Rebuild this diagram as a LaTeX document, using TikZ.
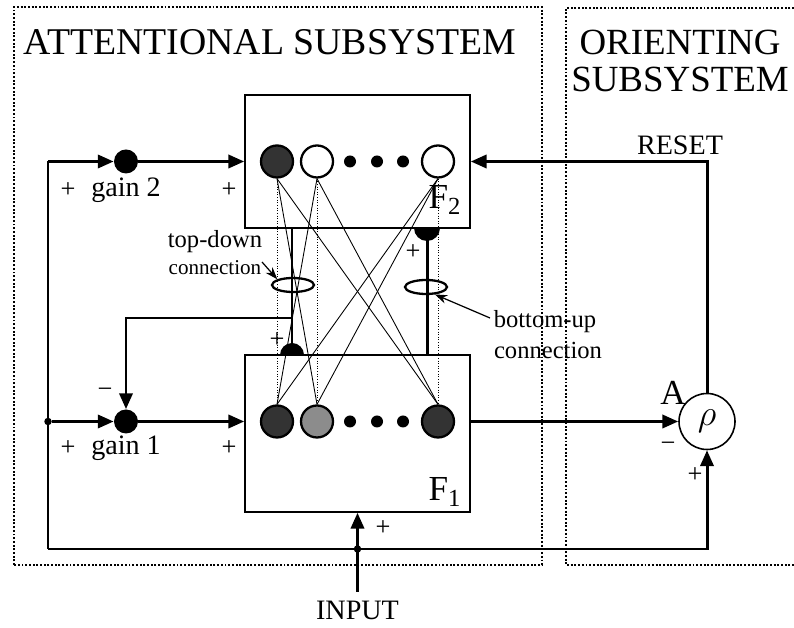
\documentclass[tikz,border=0pt]{standalone}
\usepackage{fontspec}
\setmainfont{Liberation Serif}
\usetikzlibrary{arrows.meta,positioning,shapes.geometric}

\begin{document}
\begin{tikzpicture}[
    bold/.style={line width=1.7pt},
    feed/.style={bold, -{Triangle[length=9pt,width=7.5pt]}},
    wire/.style={line width=0.5pt},
    pointer/.style={line width=0.7pt, -{Stealth[length=7pt,width=5pt]}},
    region/.style={line width=1.1pt, densely dotted},
    layer/.style={draw, line width=0.9pt, minimum width=4.5cm, inner sep=0pt},
    cell/.style={circle, draw, line width=1.3pt, minimum size=0.64cm, inner sep=0pt},
    pip/.style={circle, fill, minimum size=0.24cm, inner sep=0pt},
    gain/.style={circle, fill, minimum size=0.48cm, inner sep=0pt},
    joint/.style={circle, fill, minimum size=0.15cm, inner sep=0pt},
    ring/.style={ellipse, draw, line width=1.3pt, minimum width=0.84cm, minimum height=0.28cm, inner sep=0pt},
    heading/.style={font=\fontsize{21}{21.5}\selectfont, inner sep=0pt},
    txt/.style={font=\fontsize{16}{18}\selectfont, inner sep=0pt},
    small/.style={font=\fontsize{14}{16}\selectfont, inner sep=0pt},
    sign/.style={font=\fontsize{15}{15}\selectfont, inner sep=0pt}
]
    \useasboundingbox (0,0) rectangle (15.88,12.56);

    % Subsystem frames
    \draw[region] (0.28,1.26) rectangle (10.84,12.42);
    \draw[region] (15.88,12.40) -- (11.32,12.40) -- (11.32,1.26) -- (15.88,1.26);

    % Headings
    \node[heading, font=\fontsize{21.5}{22}\selectfont] (attn) at (5.4,11.72) {ATTENTIONAL SUBSYSTEM};
    \node[heading, align=center] (orient) at (13.6,11.34) {ORIENTING\\SUBSYSTEM};
    \node[txt] (reset) at (13.6,9.66) {RESET};

    % Layers F2 and F1
    \node[layer, minimum height=2.66cm] (f2) at (7.15,9.33) {};
    \node[layer, minimum height=3.14cm] (f1) at (7.15,3.89) {};
    \node[font=\fontsize{20}{20}\selectfont, inner sep=0pt] (f2name) at (8.9,8.56) {F\textsubscript{2}};
    \node[font=\fontsize{20}{20}\selectfont, inner sep=0pt] (f1name) at (8.9,2.72) {F\textsubscript{1}};

    % Adaptive weights between the layers
    \coordinate (tdtop) at (5.84,8.0);
    \coordinate (tdbot) at (5.84,5.46);
    \coordinate (tdfork) at (5.84,6.2);
    \coordinate (butop) at (8.54,8.0);
    \coordinate (bubot) at (8.54,5.46);

    % F2 cells
    \node[cell, fill=black!80] (t1) at (5.54,9.33) {};
    \node[cell] (t2) at (6.34,9.33) {};
    \node[cell] (t3) at (8.76,9.33) {};
    \foreach \x [count=\k] in {7.0,7.54,8.06}
        \node[pip] (tp\k) at (\x,9.33) {};

    % F1 cells
    \node[cell, fill=black!80] (b1) at (5.54,4.13) {};
    \node[cell, fill=black!45] (b2) at (6.34,4.13) {};
    \node[cell, fill=black!80] (b3) at (8.76,4.13) {};
    \foreach \x [count=\k] in {7.0,7.54,8.06}
        \node[pip] (bp\k) at (\x,4.13) {};

    % Connections
    \foreach \i/\j in {1/2,1/3,2/1,2/3,3/1,3/2}
        \draw[wire] (t\i.south) -- (b\j.north);
    \foreach \i in {1,2,3}
        \draw[wire, densely dotted] (t\i.south) -- (b\i.north);

    % Top-down pathway
    \draw[bold] (tdtop) -- (tdbot);
    \fill (tdbot) ++(-0.24,0) arc (180:0:0.24) -- cycle;
    \node[sign] (tdplus) at (5.54,5.76) {+};

    % Bottom-up pathway
    \draw[bold] (bubot) -- (butop);
    \fill (butop) ++(-0.26,0) arc (180:360:0.26) -- cycle;
    \node[sign] (buplus) at (8.26,7.52) {+};

    % Rings and their labels
    \node[ring] (tdring) at (5.86,6.86) {};
    \node[ring] (buring) at (8.52,6.82) {};
    \node[small] (tdname) at (4.30,7.72) {top-down};
    \node[font=\fontsize{12}{14}\selectfont, inner sep=0pt] (tdconn) at (4.30,7.2) {connection};
    \node[small] (buname) at (10.9,6.12) {bottom-up};
    \node[small] (buconn) at (10.96,5.56) {connection};
    \coordinate (tdtail) at (5.24,7.32);
    \coordinate (butail) at (9.8,6.2);
    \draw[pointer] (tdtail) -- (tdring.160);
    \draw[pointer] (butail) -- (buring.-40);

    % Gain control
    \coordinate (lt) at (0.96,9.33);
    \coordinate (lb) at (0.96,1.58);
    \node[joint] (j1) at (0.96,4.13) {};
    \node[gain] (g2) at (2.52,9.33) {};
    \node[gain] (g1) at (2.52,4.13) {};
    \draw[bold] (lt) -- (lb);
    \draw[feed] (lt) -- (g2);
    \draw[feed] (g2) -- (f2.west);
    \draw[feed] (j1) -- (g1);
    \draw[feed] (g1) -- (g1 -| f1.west);
    \draw[feed] (tdfork) -| (g1);

    \node[sign] (g2in) at (1.36,8.76) {+};
    \node[txt] (g2name) at (2.52,8.76) {gain 2};
    \node[sign] (g2out) at (4.58,8.76) {+};
    \node[sign] (g1in) at (1.36,3.6) {+};
    \node[txt] (g1name) at (2.52,3.6) {gain 1};
    \node[sign] (g1out) at (4.58,3.6) {+};
    \node[sign] (g1neg) at (2.1,4.7) {−};

    % Reset node
    \node[circle, draw, line width=0.9pt, minimum size=1.12cm, inner sep=0pt,
          font=\fontsize{20}{20}\selectfont] (rho) at (14.14,4.13) {$\rho$};
    \node[font=\fontsize{20}{20}\selectfont, inner sep=0pt] (aname) at (13.46,4.7) {A};
    \node[sign] (aneg) at (13.36,3.62) {−};
    \node[sign] (rhoplus) at (13.9,3.06) {+};
    \draw[feed] (b3 -| f1.east) -- (rho.west);
    \draw[feed] (rho.north) |- (f2.east);
    \draw[feed] (lb) -| (rho.south);

    % Input
    \coordinate (inp) at (7.15,0.72);
    \node[joint] (j2) at (7.15,1.58) {};
    \draw[feed] (inp) -- (f1.south);
    \node[sign] (inplus) at (7.66,2.0) {+};
    \node[txt] (input) at (7.15,0.36) {INPUT};
\end{tikzpicture}
\end{document}
